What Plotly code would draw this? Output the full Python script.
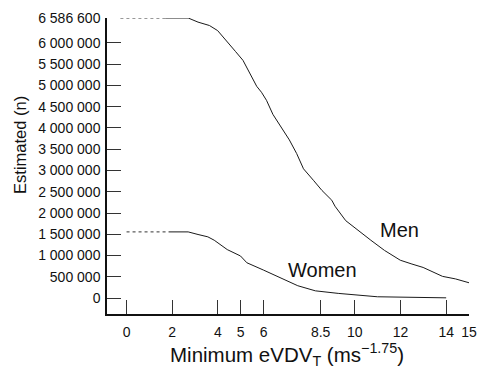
import plotly.graph_objects as go

# Men curve (x: minimum eVDV_T, y: estimated n)
men_x = [1.7, 2.7, 3.13, 3.63, 3.99, 4.34, 4.77, 5.1, 5.41, 5.7, 5.91, 6.13, 6.41, 6.8,
         7.13, 7.45, 7.75, 8.2, 8.56, 8.99, 9.13, 9.6, 10.2, 10.7, 11.3, 11.99, 12.5,
         12.99, 13.84, 14.41, 15.0]
men_y = [6586600, 6586600, 6490000, 6410000, 6290000, 6080000, 5800000, 5590000, 5270000,
         4980000, 4840000, 4650000, 4320000, 4000000, 3720000, 3400000, 3040000, 2760000,
         2530000, 2300000, 2160000, 1820000, 1560000, 1360000, 1120000, 890000, 800000,
         720000, 510000, 450000, 360000]

women_x = [1.84, 2.7, 3.13, 3.56, 3.84, 4.27, 4.41, 4.99, 5.13, 5.27, 5.99, 6.84, 7.5,
           8.27, 9.27, 10.99, 12.5, 14.0]
women_y = [1556000, 1556000, 1495000, 1440000, 1360000, 1210000, 1140000, 990000, 920000,
           830000, 660000, 460000, 290000, 170000, 110000, 30000, 10000, 5000]

# dashed extrapolation segments
men_dash_x = [-0.27, 1.7]
men_dash_y = [6586600, 6586600]
women_dash_x = [0.0, 1.84]
women_dash_y = [1556000, 1556000]

x_ticks = [0, 2, 4, 5, 6, 8.5, 10, 12, 14, 15]
x_tick_text = ["0", "2", "4", "5", "6", "8.5", "10", "12", "14", "15"]
y_ticks = [0, 500000, 1000000, 1500000, 2000000, 2500000, 3000000, 3500000, 4000000,
           4500000, 5000000, 5500000, 6000000, 6586600]
y_tick_text = ["0", "500 000", "1 000 000", "1 500 000", "2 000 000", "2 500 000",
               "3 000 000", "3 500 000", "4 000 000", "4 500 000", "5 000 000",
               "5 500 000", "6 000 000", "6 586 600"]

labels = ["Men", "Women"]
label_x = [11.95, 8.6]
label_y = [1610000, 657000]

FONT = "Liberation Sans, Arial, Helvetica, sans-serif"
LINE = "#1a1a1a"

fig = go.Figure()
fig.add_trace(go.Scatter(x=men_dash_x, y=men_dash_y, mode="lines",
                         line=dict(color="#333", width=1, dash="3px,3px"), hoverinfo="skip"))
fig.add_trace(go.Scatter(x=women_dash_x, y=women_dash_y, mode="lines",
                         line=dict(color="#333", width=1, dash="3px,3px"), hoverinfo="skip"))
fig.add_trace(go.Scatter(x=men_x, y=men_y, mode="lines", line=dict(color=LINE, width=1)))
fig.add_trace(go.Scatter(x=women_x, y=women_y, mode="lines", line=dict(color=LINE, width=1)))

for t, lx, ly in zip(labels, label_x, label_y):
    fig.add_annotation(x=lx, y=ly, text=t, showarrow=False,
                       font=dict(family=FONT, size=20, color="#111"))

fig.add_annotation(xref="paper", yref="paper", x=(18 - 107) / 370, y=(314 - 145) / 296,
                   text="Estimated (n)", textangle=-90, showarrow=False,
                   xanchor="center", yanchor="middle",
                   font=dict(family=FONT, size=16.5, color="#111"))
fig.add_annotation(xref="paper", yref="paper", x=(291 - 107) / 370, y=(314 - 354) / 296,
                   text="Minimum eVDV<sub>T</sub> (ms<sup>\u22121.75</sup>)", showarrow=False,
                   xanchor="center", yanchor="middle",
                   font=dict(family=FONT, size=20.5, color="#111"))

fig.update_layout(
    width=487, height=372,
    margin=dict(l=107, r=10, t=18, b=58),
    paper_bgcolor="white", plot_bgcolor="white",
    showlegend=False,
    font=dict(family=FONT, size=14, color="#111"),
    xaxis=dict(range=[-0.857, 15], tickvals=x_ticks, ticktext=x_tick_text,
               ticks="inside", ticklen=14, tickwidth=1, tickcolor="#333",
               showline=True, linecolor="#111", linewidth=1.5,
               showgrid=False, zeroline=False, ticklabelstandoff=4,
               tickfont=dict(family=FONT, size=14, color="#111")),
    yaxis=dict(range=[-375000, 6586600], tickvals=y_ticks, ticktext=y_tick_text,
               ticks="inside", ticklen=14, tickwidth=1, tickcolor="#333",
               showline=True, linecolor="#111", linewidth=1.5,
               showgrid=False, zeroline=False, ticklabelstandoff=2,
               tickfont=dict(family=FONT, size=14, color="#111")),
)

fig.write_html("out.html")
